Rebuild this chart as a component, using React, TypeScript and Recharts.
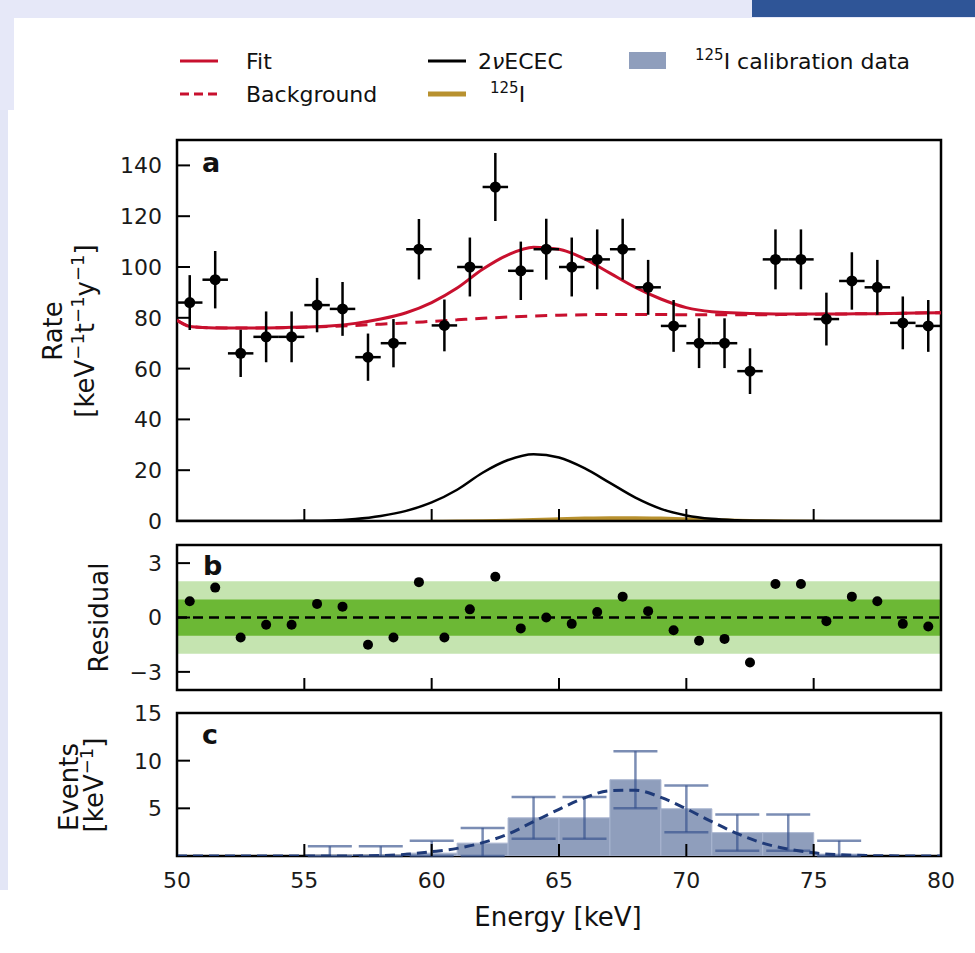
import React from 'react';
import {
  ComposedChart, Line, Area, Bar, Scatter, XAxis, YAxis, ErrorBar, ReferenceArea, ReferenceLine,
} from 'recharts';

// ---------------- data ----------------
const binCenters = [50.5, 51.5, 52.5, 53.5, 54.5, 55.5, 56.5, 57.5, 58.5, 59.5, 60.5, 61.5, 62.5, 63.5, 64.5, 65.5, 66.5, 67.5, 68.5, 69.5, 70.5, 71.5, 72.5, 73.5, 74.5, 75.5, 76.5, 77.5, 78.5, 79.5];
const binHalfWidth = 0.5;
const rateValues = [86, 95, 66, 72.5, 72.5, 85, 83.5, 64.5, 70, 107, 77, 100, 131.5, 98.5, 107, 100, 103, 107, 92, 76.8, 70, 70, 59, 103, 103, 79.5, 94.5, 92, 78, 76.8];
const rateErrors = [10.8, 11.3, 9.3, 10, 10, 10.7, 10.6, 9.3, 9.5, 11.9, 10.2, 11.6, 13.4, 11.5, 12, 11.6, 11.8, 12, 10.8, 10.2, 9.8, 9.8, 9, 11.8, 11.8, 10.4, 11.3, 10.8, 10.4, 10.2];
const residuals = [0.9, 1.65, -1.1, -0.4, -0.4, 0.75, 0.6, -1.5, -1.1, 1.95, -1.1, 0.45, 2.25, -0.6, 0.0, -0.35, 0.3, 1.15, 0.35, -0.7, -1.28, -1.18, -2.48, 1.85, 1.85, -0.2, 1.15, 0.9, -0.35, -0.5];

const curveEnergies = [50, 50.5, 51, 52, 53, 54, 55, 56, 57, 58, 59, 60, 61, 62, 63, 64, 65, 66, 67, 68, 69, 70, 71, 72, 73, 74, 75, 76, 77, 78, 79, 80];
const fitCurve = [79.0, 76.6, 76.2, 76.0, 76.0, 76.1, 76.35, 76.8, 77.8, 79.5, 82.0, 86.0, 91.7, 99.1, 104.8, 107.8, 107.0, 103.2, 97.6, 92.0, 87.4, 84.0, 82.4, 81.9, 81.6, 81.5, 81.5, 81.5, 81.6, 81.7, 81.9, 82.0];
const backgroundCurve = [79.0, 76.6, 76.2, 76.0, 76.0, 76.1, 76.3, 76.6, 77.0, 77.5, 78.0, 78.6, 79.2, 79.8, 80.3, 80.7, 81.0, 81.2, 81.3, 81.3, 81.3, 81.2, 81.2, 81.2, 81.2, 81.3, 81.4, 81.5, 81.6, 81.7, 81.9, 82.0];
const ececCurve = [0, 0, 0, 0, 0, 0, 0.05, 0.2, 0.8, 2.0, 4.0, 7.3, 12.3, 19.0, 24.0, 26.3, 25.0, 20.8, 15.0, 9.2, 4.8, 2.2, 0.85, 0.3, 0.08, 0.02, 0, 0, 0, 0, 0, 0];
const iodineCurve = [0, 0, 0, 0, 0, 0, 0, 0, 0, 0, 0.03, 0.07, 0.16, 0.29, 0.5, 0.77, 1.05, 1.33, 1.48, 1.48, 1.33, 1.05, 0.76, 0.5, 0.28, 0.15, 0.07, 0.03, 0, 0, 0, 0];

const calCenters = [56, 58, 60, 62, 64, 66, 68, 70, 72, 74, 76];
const calValues = [0.02, 0.02, 0.3, 1.35, 4.0, 4.0, 8.0, 4.95, 2.45, 2.45, 0.2];
const calErrLow = [0.02, 0.02, 0.3, 1.35, 2.2, 2.2, 3.0, 2.45, 1.9, 1.9, 0.2];
const calErrHigh = [1.0, 1.0, 1.3, 1.6, 2.2, 2.2, 3.0, 2.45, 1.9, 1.9, 1.4];

const calFitEnergies = [50, 51, 52, 53, 54, 55, 56, 57, 58, 59, 60, 61, 62, 63, 64, 65, 66, 67, 68, 69, 70, 71, 72, 73, 74, 75, 76, 77, 78, 79, 80];
const calFitValues = [0, 0, 0, 0, 0, 0, 0, 0.01, 0.05, 0.18, 0.45, 0.8, 1.4, 2.3, 3.6, 4.9, 6.1, 6.85, 6.9, 6.15, 4.95, 3.6, 2.35, 1.35, 0.72, 0.33, 0.13, 0.05, 0.02, 0, 0];

const energyTicks = [50, 55, 60, 65, 70, 75, 80];
const rateTicks = [0, 20, 40, 60, 80, 100, 120, 140];
const residualTicks = [-3, 0, 3];
const eventTicks = [5, 10, 15];

const points = binCenters.map((e, i) => ({ e, rate: rateValues[i], errY: rateErrors[i], errX: binHalfWidth }));
const residualData = binCenters.map((e, i) => ({ e, r: residuals[i] }));
const curveData = curveEnergies.map((e, i) => ({ e, fit: fitCurve[i], bg: backgroundCurve[i], ecec: ececCurve[i], iod: iodineCurve[i] }));
const calData = calCenters.map((e, i) => ({ e, v: calValues[i], err: [calErrLow[i], calErrHigh[i]] }));
const calFitData = calFitEnergies.map((e, i) => ({ e, f: calFitValues[i] }));

// ---------------- style ----------------
const FONT = '"DejaVu Sans", Verdana, sans-serif';
const RED = '#c8102e';
const GOLD = '#b8912f';
const CAL = '#8f9ebc';
const CALDARK = '#1f3a78';
const W = 975;
const H = 953;
const PLOT_LEFT = 177;
const PLOT_RIGHT = 941;
const YW = 60;
const XH = 20;

const fmtNum = (v: number) => (v < 0 ? '\u2212' + Math.abs(v) : String(v));

const leftTick = (labels: boolean) => (props: any) => {
  const { x, y, payload } = props;
  return (
    <g>
      <line x1={x} x2={x + 13} y1={y} y2={y} stroke="#000" strokeWidth={2} />
      {labels && (
        <text x={x - 15} y={y} dy="0.36em" textAnchor="end" fontSize={22} fontFamily={FONT} fill="#1a1a1a">
          {fmtNum(payload.value)}
        </text>
      )}
    </g>
  );
};

const bottomTick = (labels: boolean) => (props: any) => {
  const { x, y, payload } = props;
  return (
    <g>
      <line x1={x} x2={x} y1={y} y2={y - 12} stroke="#000" strokeWidth={2} />
      {labels && (
        <text x={x} y={y + 31.5} textAnchor="middle" fontSize={22} fontFamily={FONT} fill="#1a1a1a">
          {payload.value}
        </text>
      )}
    </g>
  );
};

const Dot = (r: number) => (p: any) => <circle cx={p.cx} cy={p.cy} r={r} fill="#000" />;

const layer: React.CSSProperties = { position: 'absolute', left: 0, top: 0 };

function PanelA() {
  return (
    <ComposedChart width={W} height={H} margin={{ top: 140, right: W - PLOT_RIGHT, bottom: H - 521 - XH, left: PLOT_LEFT - YW }}>
      <XAxis type="number" dataKey="e" domain={[50, 80]} ticks={energyTicks} interval={0} allowDataOverflow
        axisLine={false} tickLine={false} tickSize={0} tickMargin={0} height={XH} tick={bottomTick(false)} />
      <YAxis type="number" domain={[0, 150]} ticks={rateTicks} interval={0} allowDataOverflow
        axisLine={false} tickLine={false} tickSize={0} tickMargin={0} width={YW} tick={leftTick(true)} />
      <Area data={curveData} dataKey="iod" type="monotone" stroke={GOLD} strokeWidth={2} fill={GOLD} fillOpacity={1}
        baseValue={0} dot={false} activeDot={false} isAnimationActive={false} />
      <Line data={curveData} dataKey="ecec" type="monotone" stroke="#000" strokeWidth={2.5} dot={false} activeDot={false} isAnimationActive={false} />
      <Line data={curveData} dataKey="bg" type="monotone" stroke={RED} strokeWidth={3} strokeDasharray="12 8" dot={false} activeDot={false} isAnimationActive={false} />
      <Line data={curveData} dataKey="fit" type="monotone" stroke={RED} strokeWidth={3} dot={false} activeDot={false} isAnimationActive={false} />
      <Scatter data={points} dataKey="rate" shape={Dot(5.5)} isAnimationActive={false}>
        <ErrorBar dataKey="errY" direction="y" width={0} stroke="#000" strokeWidth={2.5} />
        <ErrorBar dataKey="errX" direction="x" width={0} stroke="#000" strokeWidth={2.5} />
      </Scatter>
      <ReferenceArea x1={50} x2={80} y1={0} y2={150} fill="none" stroke="#000" strokeWidth={2.5} />
    </ComposedChart>
  );
}

function PanelB() {
  return (
    <ComposedChart width={W} height={H} margin={{ top: 545, right: W - PLOT_RIGHT, bottom: H - 690 - XH, left: PLOT_LEFT - YW }}>
      <XAxis type="number" dataKey="e" domain={[50, 80]} ticks={energyTicks} interval={0} allowDataOverflow
        axisLine={false} tickLine={false} tickSize={0} tickMargin={0} height={XH} tick={bottomTick(false)} />
      <YAxis type="number" domain={[-4, 4]} ticks={residualTicks} interval={0} allowDataOverflow
        axisLine={false} tickLine={false} tickSize={0} tickMargin={0} width={YW} tick={leftTick(true)} />
      <ReferenceArea x1={50} x2={80} y1={-2} y2={2} fill="#c5e4b0" fillOpacity={1} stroke="none" />
      <ReferenceArea x1={50} x2={80} y1={-1} y2={1} fill="#6cb835" fillOpacity={1} stroke="none" />
      <ReferenceLine y={0} stroke="#000" strokeWidth={2.5} strokeDasharray="10 6" />
      <Scatter data={residualData} dataKey="r" shape={Dot(5)} isAnimationActive={false} />
      <ReferenceArea x1={50} x2={80} y1={-4} y2={4} fill="none" stroke="#000" strokeWidth={2.5} />
    </ComposedChart>
  );
}

function PanelC() {
  return (
    <ComposedChart width={W} height={H} data={calData} barCategoryGap={0} barGap={0}
      margin={{ top: 713, right: W - PLOT_RIGHT, bottom: H - 856 - XH, left: PLOT_LEFT - YW }}>
      <XAxis type="number" dataKey="e" domain={[50, 80]} ticks={energyTicks} interval={0} allowDataOverflow
        axisLine={false} tickLine={false} tickSize={0} tickMargin={0} height={XH} tick={bottomTick(true)} />
      <XAxis xAxisId="fit" type="number" dataKey="e" domain={[50, 80]} allowDataOverflow hide />
      <YAxis type="number" domain={[0, 15]} ticks={eventTicks} interval={0} allowDataOverflow
        axisLine={false} tickLine={false} tickSize={0} tickMargin={0} width={YW} tick={leftTick(true)} />
      <Bar dataKey="v" fill={CAL} stroke="#a9b5d0" strokeWidth={1} isAnimationActive={false}>
        <ErrorBar dataKey="err" width={22} stroke="#34508c" strokeOpacity={0.65} strokeWidth={2.5} />
      </Bar>
      <Line xAxisId="fit" data={calFitData} dataKey="f" type="monotone" stroke={CALDARK} strokeWidth={3}
        strokeDasharray="10 6" dot={false} activeDot={false} isAnimationActive={false} />
      <ReferenceArea x1={50} x2={80} y1={0} y2={15} fill="none" stroke="#000" strokeWidth={2.5} />
    </ComposedChart>
  );
}

function Overlay() {
  const base = { fontFamily: FONT, fill: '#111' } as const;
  return (
    <svg width={W} height={H} style={{ ...layer, pointerEvents: 'none' }}>
      {/* legend */}
      <line x1={180} x2={218} y1={61} y2={61} stroke={RED} strokeWidth={3} />
      <text x={246} y={69} fontSize={22} {...base}>Fit</text>
      <line x1={180} x2={218} y1={94} y2={94} stroke={RED} strokeWidth={3} strokeDasharray="9 5" />
      <text x={246} y={102} fontSize={22} {...base}>Background</text>
      <line x1={428} x2={466} y1={61} y2={61} stroke="#000" strokeWidth={3} />
      <text x={478} y={69} fontSize={22} {...base}>2<tspan fontStyle="italic">ν</tspan>ECEC</text>
      <line x1={428} x2={466} y1={94} y2={94} stroke={GOLD} strokeWidth={5} />
      <text x={490} y={102} fontSize={22} {...base}>
        <tspan fontSize={15} dy={-9}>125</tspan><tspan dy={9}>I</tspan>
      </text>
      <rect x={629} y={52} width={37} height={17} fill={CAL} />
      <text x={695} y={69} fontSize={22} {...base}>
        <tspan fontSize={15} dy={-9}>125</tspan><tspan dy={9}>I calibration data</tspan>
      </text>

      {/* panel letters */}
      <text x={202} y={172} fontSize={27} fontWeight="bold" {...base}>a</text>
      <text x={203} y={575} fontSize={27} fontWeight="bold" {...base}>b</text>
      <text x={202} y={744} fontSize={27} fontWeight="bold" {...base}>c</text>

      {/* y labels */}
      <text x={61.5} y={331} transform="rotate(-90 61.5 331)" textAnchor="middle" fontSize={26} {...base}>Rate</text>
      <text x={94} y={331} transform="rotate(-90 94 331)" textAnchor="middle" fontSize={26} {...base}>
        [keV<tspan fontSize={18} dy={-10}>−1</tspan><tspan dy={10}>t</tspan><tspan fontSize={18} dy={-10}>−1</tspan><tspan dy={10}>y</tspan><tspan fontSize={18} dy={-10}>−1</tspan><tspan dy={10}>]</tspan>
      </text>
      <text x={108} y={617.5} transform="rotate(-90 108 617.5)" textAnchor="middle" fontSize={26} {...base}>Residual</text>
      <text x={78} y={787} transform="rotate(-90 78 787)" textAnchor="middle" fontSize={26} {...base}>Events</text>
      <text x={103} y={785} transform="rotate(-90 103 785)" textAnchor="middle" fontSize={26} {...base}>
        [keV<tspan fontSize={18} dy={-10}>−1</tspan><tspan dy={10}>]</tspan>
      </text>

      {/* x label */}
      <text x={558} y={926} textAnchor="middle" fontSize={26} {...base}>Energy [keV]</text>
    </svg>
  );
}

export default function App() {
  return (
    <div style={{ position: 'absolute', left: 0, top: 0, width: W, height: H, background: '#fff', overflow: 'hidden' }}>
      <div style={{ position: 'absolute', left: 0, top: 0, width: W, height: 18, background: '#e6e8f8' }} />
      <div style={{ position: 'absolute', left: 0, top: 0, width: 14, height: 110, background: '#e6e8f8' }} />
      <div style={{ position: 'absolute', left: 0, top: 110, width: 8, height: 780, background: '#e3e6f6' }} />
      <div style={{ position: 'absolute', left: 752, top: 0, width: W - 752, height: 17, background: '#2f5597' }} />
      <div style={layer}><PanelA /></div>
      <div style={layer}><PanelB /></div>
      <div style={layer}><PanelC /></div>
      <Overlay />
    </div>
  );
}
